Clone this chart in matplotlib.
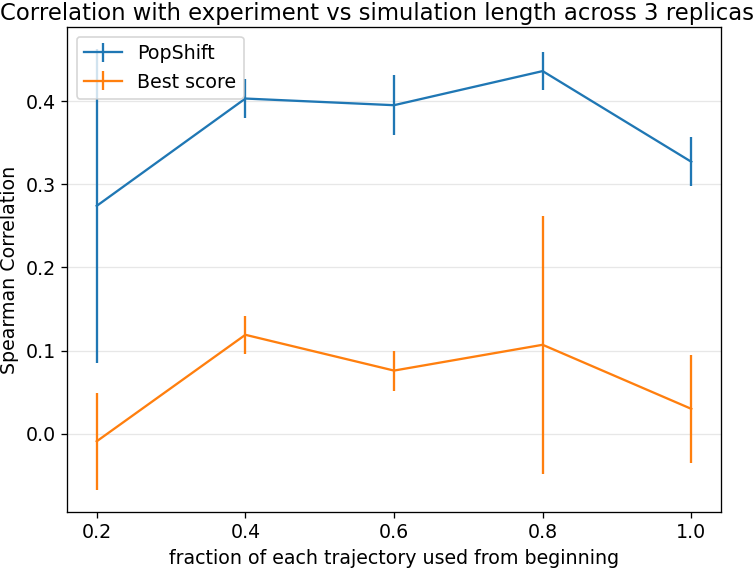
import matplotlib
matplotlib.use("Agg")
import matplotlib.pyplot as plt
import numpy as np

fractions = [0.2, 0.4, 0.6, 0.8, 1.0]

popshift = [0.274, 0.403, 0.395, 0.436, 0.327]
popshift_err = [0.1885, 0.0235, 0.036, 0.023, 0.0295]

best_score = [-0.009, 0.119, 0.076, 0.107, 0.030]
best_score_err = [0.0585, 0.023, 0.024, 0.155, 0.065]

plt.rcParams["font.size"] = 11.6

dpi = 118
fig = plt.figure(figsize=(754 / dpi, 568 / dpi), dpi=dpi)
ax = fig.add_axes([67 / 754, 56 / 568, 654 / 754, 485 / 568])

ax.errorbar(fractions, popshift, yerr=popshift_err, label="PopShift", lw=1.4)
ax.errorbar(fractions, best_score, yerr=best_score_err, label="Best score", lw=1.4)

ax.set_xticks(fractions)
ax.grid(axis="y", alpha=0.3)
ax.legend(loc="upper left")
ax.set_xlabel("fraction of each trajectory used from beginning")
ax.set_ylabel("Spearman Correlation")
fig.text(0.5, 1 - 20 / 568, "Correlation with experiment vs simulation length across 3 replicas",
         ha="center", va="baseline", fontsize=13.9)

fig.savefig("out.png", dpi=dpi)
